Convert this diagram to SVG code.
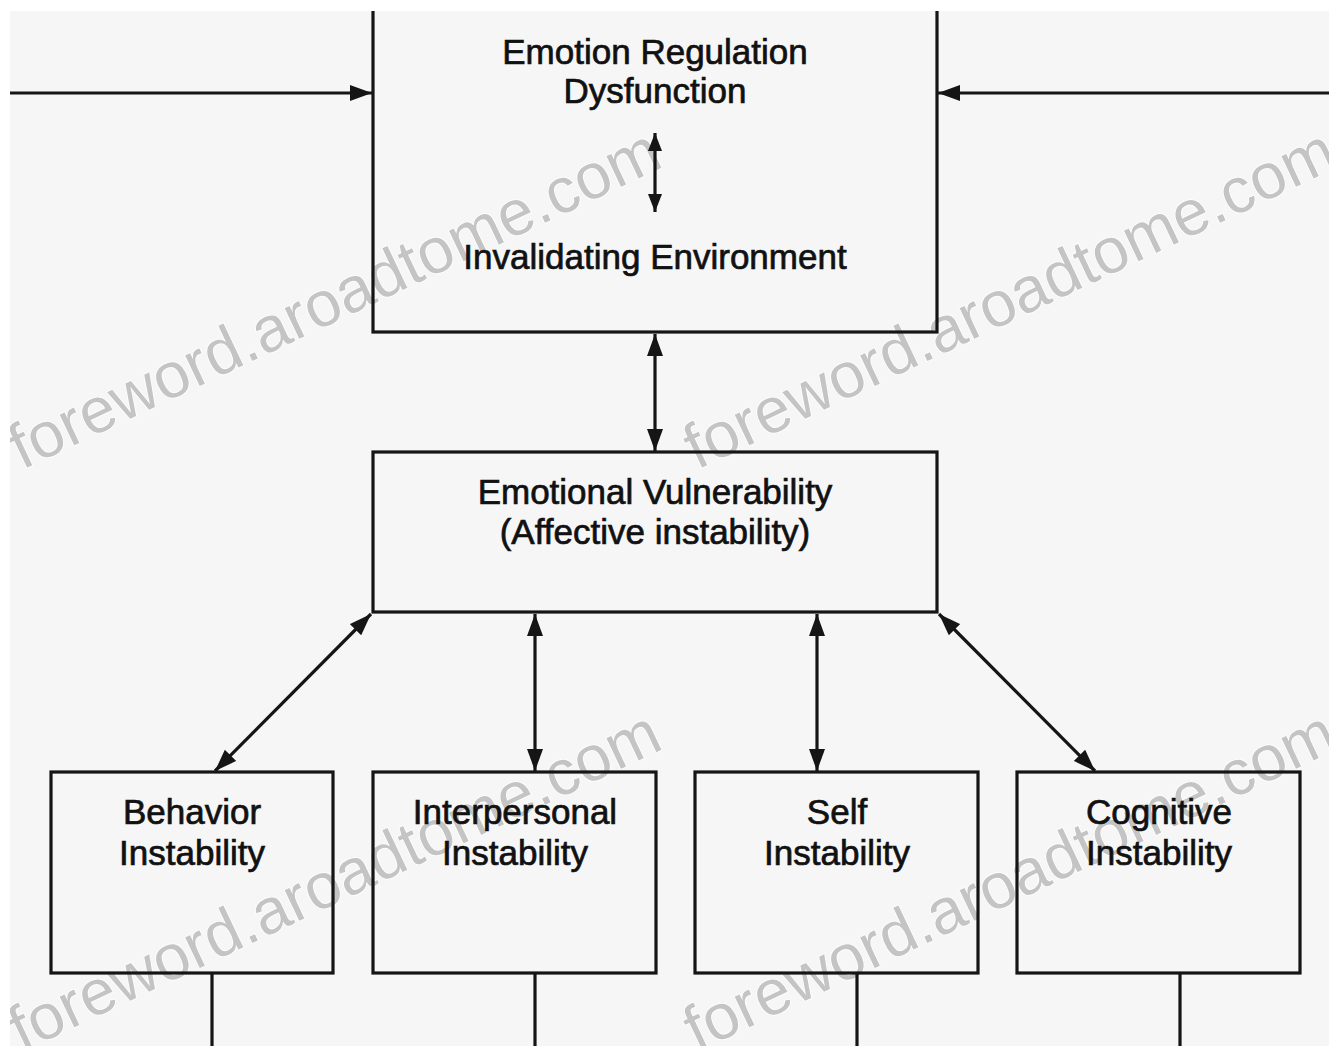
<svg xmlns="http://www.w3.org/2000/svg" width="1329" height="1046" viewBox="0 0 1329 1046">
<defs>
<style>
.bx{fill:none;stroke:#151515;stroke-width:3.2}
.t{font-family:"Liberation Sans",Arial,sans-serif;font-size:35px;fill:#111111;stroke:#111111;stroke-width:0.7;text-anchor:middle}
.c{stroke:#151515;stroke-width:3.2;fill:none}
.wm{font-family:"Liberation Sans",Arial,sans-serif;font-size:64px;fill:#c4c4c4;stroke:#ffffff;stroke-width:1.5;paint-order:stroke}
</style>
<marker id="ah" markerUnits="userSpaceOnUse" markerWidth="22" markerHeight="16" refX="22" refY="8" orient="auto-start-reverse"><path d="M0,0 L22,8 L0,16 z" fill="#151515"/></marker>
<marker id="sh" markerUnits="userSpaceOnUse" markerWidth="18" markerHeight="14" refX="18" refY="7" orient="auto-start-reverse"><path d="M0,0 L18,7 L0,14 z" fill="#151515"/></marker>
</defs>
<rect x="0" y="0" width="1329" height="1046" fill="#f6f6f6"/>
<g id="watermark">
<text class="wm" x="22" y="470" transform="rotate(-25.3 22 470)">foreword.aroadtome.com</text>
<text class="wm" x="697" y="470" transform="rotate(-25.3 697 470)">foreword.aroadtome.com</text>
<text class="wm" x="22" y="1052" transform="rotate(-25.3 22 1052)">foreword.aroadtome.com</text>
<text class="wm" x="697" y="1052" transform="rotate(-25.3 697 1052)">foreword.aroadtome.com</text>
</g>
<g id="connectors">
<line class="c" x1="10" y1="93" x2="372" y2="93" marker-end="url(#ah)"/>
<line class="c" x1="1329" y1="93" x2="938" y2="93" marker-end="url(#ah)"/>
<line class="c" x1="655" y1="133" x2="655" y2="212" marker-start="url(#sh)" marker-end="url(#sh)"/>
<line class="c" x1="655" y1="334" x2="655" y2="451" marker-start="url(#ah)" marker-end="url(#ah)"/>
<line class="c" x1="371" y1="614" x2="215" y2="771" marker-start="url(#ah)" marker-end="url(#ah)"/>
<line class="c" x1="535" y1="614" x2="535" y2="771" marker-start="url(#ah)" marker-end="url(#ah)"/>
<line class="c" x1="817" y1="614" x2="817" y2="771" marker-start="url(#ah)" marker-end="url(#ah)"/>
<line class="c" x1="939" y1="614" x2="1095" y2="771" marker-start="url(#ah)" marker-end="url(#ah)"/>
<line class="c" x1="212" y1="974" x2="212" y2="1046"/>
<line class="c" x1="535" y1="974" x2="535" y2="1046"/>
<line class="c" x1="857" y1="974" x2="857" y2="1046"/>
<line class="c" x1="1180" y1="974" x2="1180" y2="1046"/>
</g>
<g id="node-erd">
<rect class="bx" x="373" y="-5" width="564" height="337"/>
<text class="t" x="655" y="64">Emotion Regulation</text>
<text class="t" x="655" y="103">Dysfunction</text>
<text class="t" x="655" y="269">Invalidating Environment</text>
</g>
<g id="node-ev">
<rect class="bx" x="373" y="452" width="564" height="160"/>
<text class="t" x="655" y="504">Emotional Vulnerability</text>
<text class="t" x="655" y="544">(Affective instability)</text>
</g>
<g id="node-behavior">
<rect class="bx" x="51" y="772" width="282" height="201"/>
<text class="t" x="192" y="824">Behavior</text>
<text class="t" x="192" y="865">Instability</text>
</g>
<g id="node-interpersonal">
<rect class="bx" x="373" y="772" width="283" height="201"/>
<text class="t" x="515" y="824">Interpersonal</text>
<text class="t" x="515" y="865">Instability</text>
</g>
<g id="node-self">
<rect class="bx" x="695" y="772" width="283" height="201"/>
<text class="t" x="837" y="824">Self</text>
<text class="t" x="837" y="865">Instability</text>
</g>
<g id="node-cognitive">
<rect class="bx" x="1017" y="772" width="283" height="201"/>
<text class="t" x="1159" y="824">Cognitive</text>
<text class="t" x="1159" y="865">Instability</text>
</g>
<rect x="0" y="0" width="1329" height="11" fill="#ffffff"/>
<rect x="0" y="0" width="10" height="1046" fill="#ffffff"/>
</svg>
